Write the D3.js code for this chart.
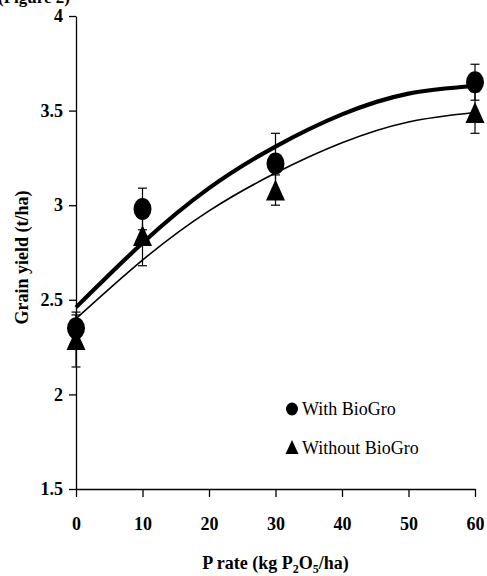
<!DOCTYPE html>
<html>
<head>
<meta charset="utf-8">
<script src="https://cdn.jsdelivr.net/npm/d3@7"></script>
<style>
  body { margin: 0; background: #fff; }
  svg text { font-family: "Times New Roman", "Liberation Serif", "DejaVu Serif", serif; fill: #000; }
</style>
</head>
<body>
<div id="chart-area"></div>
<script>
// P rates of the trial (kg P2O5/ha)
var rates = [0, 10, 30, 60];

// mean grain yield (t/ha) and error bars
var withBio = [2.35, 2.98, 3.22, 3.65];
var withBioErr = [0.07, 0.11, 0.16, 0.095];
var withoutBio = [2.29, 2.84, 3.08, 3.49];
var withoutBioErr = [0.145, 0.16, 0.08, 0.11];

// fitted curves
var fitRates = [0, 10, 20, 30, 40, 50, 60];
var withFit = [2.46, 2.80, 3.09, 3.31, 3.48, 3.59, 3.63];
var withoutFit = [2.40, 2.71, 2.97, 3.17, 3.33, 3.44, 3.49];

var xTicks = [0, 10, 20, 30, 40, 50, 60];
var yTicks = [1.5, 2, 2.5, 3, 3.5, 4];

var width = 487,
    height = 576;
var serif = "'Times New Roman', 'Liberation Serif', 'DejaVu Serif', serif";

var svg = d3.select("#chart-area").append("svg")
    .attr("width", width)
    .attr("height", height)
    .attr("font-family", serif);

var x = d3.scaleLinear().domain([0, 60]).range([76, 475]);
var y = d3.scaleLinear().domain([1.5, 4]).range([489, 16]);

// cut-off caption at the very top
svg.append("text")
    .attr("x", -2)
    .attr("y", 3)
    .attr("font-family", serif)
    .attr("font-size", 17)
    .attr("font-weight", "bold")
    .text("(Figure 2)");

// axes
var xAxis = d3.axisBottom(x).tickValues(xTicks).tickSize(8).tickSizeOuter(0).tickPadding(20);
var gx = svg.append("g")
    .attr("class", "axis xAxis")
    .attr("transform", "translate(0," + y(1.5) + ")")
    .call(xAxis);

var yAxis = d3.axisLeft(y).tickValues(yTicks).tickSize(7).tickSizeOuter(0).tickPadding(6)
    .tickFormat(function(d) { return String(d); });
var gy = svg.append("g")
    .attr("class", "axis yAxis")
    .attr("transform", "translate(" + x(0) + ",0)")
    .call(yAxis);

svg.selectAll(".axis")
    .attr("font-family", serif)
    .attr("font-size", 18)
    .attr("font-weight", "bold");
svg.selectAll(".axis path, .axis line")
    .attr("stroke", "#000")
    .attr("stroke-width", 1.3);

// axis titles
var xt = svg.append("text")
    .attr("text-anchor", "middle")
    .attr("x", (x(0) + x(60)) / 2)
    .attr("y", 569)
    .attr("font-family", serif)
    .attr("font-size", 18)
    .attr("font-weight", "bold");
xt.append("tspan").text("P rate (kg P");
xt.append("tspan").attr("dy", 4).attr("font-size", 12).text("2");
xt.append("tspan").attr("dy", -4).text("O");
xt.append("tspan").attr("dy", 4).attr("font-size", 12).text("5");
xt.append("tspan").attr("dy", -4).text("/ha)");

svg.append("text")
    .attr("text-anchor", "middle")
    .attr("transform", "translate(28," + ((y(1.5) + y(4)) / 2 + 5) + ") rotate(-90)")
    .attr("font-family", serif)
    .attr("font-size", 18)
    .attr("font-weight", "bold")
    .text("Grain yield (t/ha)");

// fitted curves
var line = d3.line()
    .x(function(d) { return x(d[0]); })
    .y(function(d) { return y(d[1]); })
    .curve(d3.curveNatural);

svg.append("path")
    .datum(d3.zip(fitRates, withoutFit))
    .attr("d", line)
    .attr("fill", "none")
    .attr("stroke", "#000")
    .attr("stroke-width", 1.6);

svg.append("path")
    .datum(d3.zip(fitRates, withFit))
    .attr("d", line)
    .attr("fill", "none")
    .attr("stroke", "#000")
    .attr("stroke-width", 4.2);

// error bars
function errorBars(vals, errs) {
    var g = svg.append("g").attr("stroke", "#000").attr("stroke-width", 1.2);
    rates.forEach(function(r, i) {
        var cx = x(r), lo = y(vals[i] - errs[i]), hi = y(vals[i] + errs[i]);
        g.append("line").attr("x1", cx).attr("x2", cx).attr("y1", lo).attr("y2", hi);
        g.append("line").attr("x1", cx - 4.5).attr("x2", cx + 4.5).attr("y1", lo).attr("y2", lo);
        g.append("line").attr("x1", cx - 4.5).attr("x2", cx + 4.5).attr("y1", hi).attr("y2", hi);
    });
}
errorBars(withoutBio, withoutBioErr);
errorBars(withBio, withBioErr);

function triangle(w, h) {
    return "M0," + (-h / 2) + "L" + (w / 2) + "," + (h / 2) + "L" + (-w / 2) + "," + (h / 2) + "Z";
}

// markers
svg.selectAll(".tri")
    .data(d3.zip(rates, withoutBio))
    .enter()
    .append("path")
    .attr("class", "tri")
    .attr("d", triangle(19, 21))
    .attr("transform", function(d) { return "translate(" + x(d[0]) + "," + y(d[1]) + ")"; })
    .attr("fill", "#000");

svg.selectAll(".dot")
    .data(d3.zip(rates, withBio))
    .enter()
    .append("ellipse")
    .attr("class", "dot")
    .attr("cx", function(d) { return x(d[0]); })
    .attr("cy", function(d) { return y(d[1]); })
    .attr("rx", 9)
    .attr("ry", 11)
    .attr("fill", "#000");

// legend
var legend = svg.append("g")
    .attr("font-family", serif)
    .attr("font-size", 18);
legend.append("ellipse")
    .attr("cx", 292).attr("cy", 409).attr("rx", 6).attr("ry", 6.5)
    .attr("fill", "#000");
legend.append("text")
    .attr("x", 302).attr("y", 415)
    .text("With BioGro");
legend.append("path")
    .attr("d", triangle(13, 14))
    .attr("transform", "translate(292,447)")
    .attr("fill", "#000");
legend.append("text")
    .attr("x", 302).attr("y", 454)
    .text("Without BioGro");
</script>
</body>
</html>
